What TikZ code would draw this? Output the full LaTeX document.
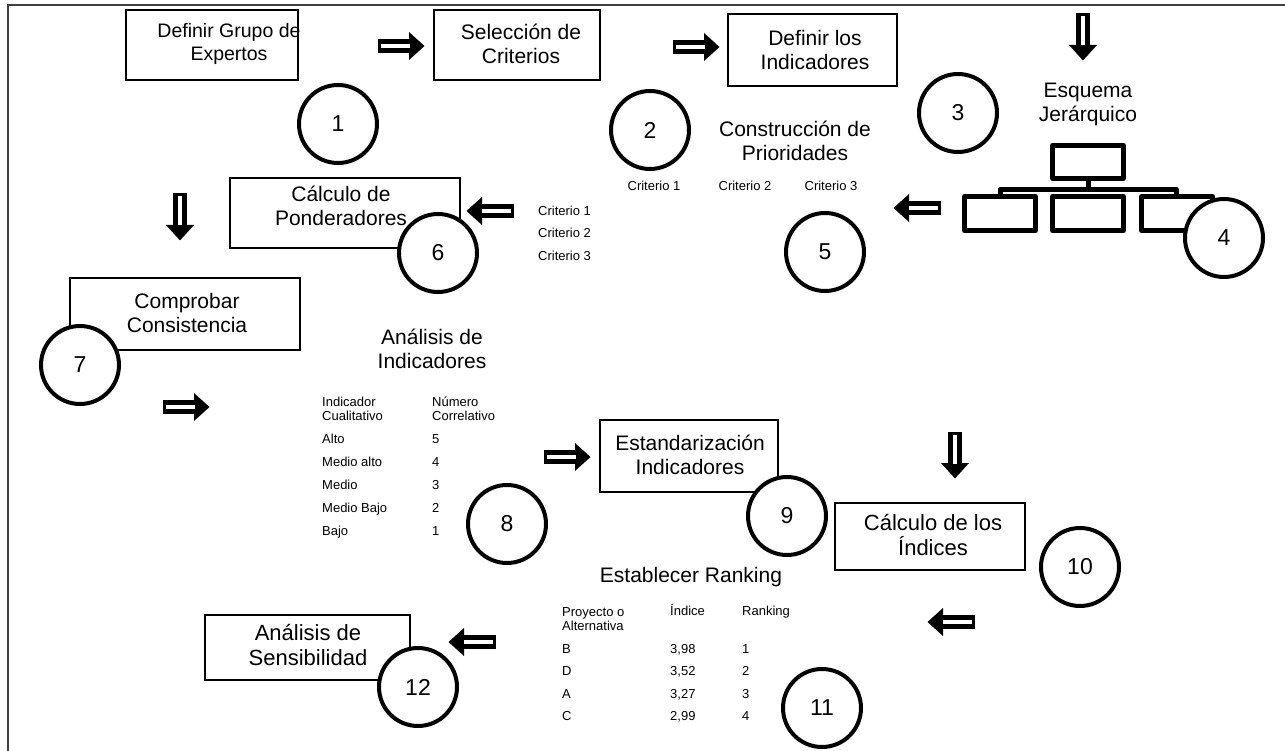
\documentclass[tikz,border=0pt]{standalone}
\usepackage{fontspec}
\setmainfont{Liberation Sans}
\begin{document}
\begin{tikzpicture}[x=1pt,y=-1pt,
  frameline/.style={draw=black!75,line width=1.5},
  stepbox/.style={draw,line width=1.6,fill=white,inner sep=0},
  big/.style={font=\fontsize{21}{24}\selectfont,align=center,inner sep=0},
  smalltwo/.style={font=\fontsize{13}{14.5}\selectfont,align=left,anchor=west,inner sep=0},
  small/.style={smalltwo,text height=9.4,text depth=2.8},
  num/.style={circle,draw,line width=4,fill=white,minimum size=78,inner sep=0,font=\fontsize{23}{23}\selectfont},
  icon/.style={line width=5,line join=round,line cap=round},
  blockarrow/.pic={
    \fill (-23.5,-7) rectangle (9,7);
    \fill (8,-14) -- (23.5,0) -- (8,14) -- cycle;
    \fill[white] (-20.5,-1.8) rectangle (8.5,1.8);
  }]
\useasboundingbox (0,0) rectangle (1285,751);

% outer frame (top and left edges)
\draw[frameline] (1285,5) -- (8,5) -- (8,751);

% ---- process boxes ----
\node[stepbox,minimum width=172,minimum height=70] (b1) at (212,45) {};
\node[stepbox,minimum width=166,minimum height=70] (b2) at (517,45) {};
\node[stepbox,minimum width=169,minimum height=72] (b3) at (812.5,50) {};
\node[stepbox,minimum width=230,minimum height=70] (b6) at (345,213) {};
\node[stepbox,minimum width=230,minimum height=72] (b7) at (185,314) {};
\node[stepbox,minimum width=178,minimum height=72] (b9) at (689,456) {};
\node[stepbox,minimum width=190,minimum height=67] (b10) at (930,536.5) {};
\node[stepbox,minimum width=205,minimum height=65] (b12) at (307.5,647.5) {};

\node[big,font=\fontsize{19.5}{23.5}\selectfont] (t1) at (229,44) {Definir Grupo de\\Expertos};
\node[big] (t2) at (521,44) {Selección de\\Criterios};
\node[big] (t3) at (815,50) {Definir los\\Indicadores};
\node[big] (t6) at (341,206) {Cálculo de\\Ponderadores};
\node[big] (t7) at (187,313) {Comprobar\\Consistencia};
\node[big] (t9) at (690,455) {Estandarización\\Indicadores};
\node[big,font=\fontsize{22}{25}\selectfont] (t10) at (933,535) {Cálculo de los\\Índices};
\node[big,font=\fontsize{22}{25}\selectfont] (t12) at (308,645) {Análisis de\\Sensibilidad};

% ---- headings ----
\node[big] (hEsq) at (1088,104) {Esquema\\Jerárquico};
\node[big] (hCon) at (795,141) {Construcción de\\Prioridades};
\node[big] (hAna) at (432,349) {Análisis de\\Indicadores};
\node[big] (hRan) at (691,577) {Establecer Ranking};

% ---- hierarchy icon ----
\draw[icon] (1052.5,145.5) rectangle (1123.5,178.5);
\draw[icon] (1088,178.5) -- (1088,189.5);
\draw[icon] (1000,196) -- (1000,189.5) -- (1176,189.5) -- (1176,196);
\draw[icon] (964.5,196.5) rectangle (1035.5,230.5);
\draw[icon] (1052.5,196.5) rectangle (1123.5,230.5);
\draw[icon] (1141.5,196.5) rectangle (1212.5,230.5);

% ---- priority matrix labels ----
\node[small,anchor=center] (k1) at (654,187) {Criterio 1};
\node[small,anchor=center] (k2) at (745,187) {Criterio 2};
\node[small,anchor=center] (k3) at (831,187) {Criterio 3};
\node[small] (r1) at (538,212) {Criterio 1};
\node[small] (r2) at (538,234) {Criterio 2};
\node[small] (r3) at (538,257) {Criterio 3};

% ---- indicator scale ----
\node[smalltwo] (i0) at (322,409) {Indicador\\Cualitativo};
\node[smalltwo] (n0) at (432,409) {Número\\Correlativo};
\node[small] (i1) at (322,440) {Alto};        \node[small] (n1) at (432,440) {5};
\node[small] (i2) at (322,463) {Medio alto};  \node[small] (n2) at (432,463) {4};
\node[small] (i3) at (322,486) {Medio};       \node[small] (n3) at (432,486) {3};
\node[small] (i4) at (322,509) {Medio Bajo};  \node[small] (n4) at (432,509) {2};
\node[small] (i5) at (322,532) {Bajo};        \node[small] (n5) at (432,532) {1};

% ---- ranking table ----
\node[smalltwo] (p0) at (562,619) {Proyecto o\\Alternativa};
\node[small] (x0) at (670,612) {Índice};
\node[small] (z0) at (742,612) {Ranking};
\node[small] (p1) at (562,650) {B}; \node[small] (x1) at (670,650) {3,98}; \node[small] (z1) at (742,650) {1};
\node[small] (p2) at (562,672) {D}; \node[small] (x2) at (670,672) {3,52}; \node[small] (z2) at (742,672) {2};
\node[small] (p3) at (562,695) {A}; \node[small] (x3) at (670,695) {3,27}; \node[small] (z3) at (742,695) {3};
\node[small] (p4) at (562,717) {C}; \node[small] (x4) at (670,717) {2,99}; \node[small] (z4) at (742,717) {4};

% ---- step numbers ----
\node[num] (c1) at (338,124) {1};
\node[num] (c2) at (650,130) {2};
\node[num] (c3) at (958,113) {3};
\node[num] (c4) at (1224,238) {4};
\node[num] (c5) at (825,252) {5};
\node[num] (c6) at (438,253) {6};
\node[num] (c7) at (80,365) {7};
\node[num] (c8) at (507,524) {8};
\node[num] (c9) at (787,516) {9};
\node[num] (c10) at (1080,567) {10};
\node[num] (c11) at (822,708) {11};
\node[num] (c12) at (418,687) {12};

% ---- flow arrows ----
\pic at (401,46) {blockarrow};
\pic at (696,47) {blockarrow};
\pic[rotate=-90] at (1083,37) {blockarrow};
\pic[rotate=180] at (917,208) {blockarrow};
\pic[rotate=180] at (490,211) {blockarrow};
\pic[rotate=-90] at (180,217) {blockarrow};
\pic at (186,407) {blockarrow};
\pic at (567,457) {blockarrow};
\pic[rotate=-90] at (955,455) {blockarrow};
\pic[rotate=180] at (951,622) {blockarrow};
\pic[rotate=180] at (472,642) {blockarrow};
\end{tikzpicture}
\end{document}
